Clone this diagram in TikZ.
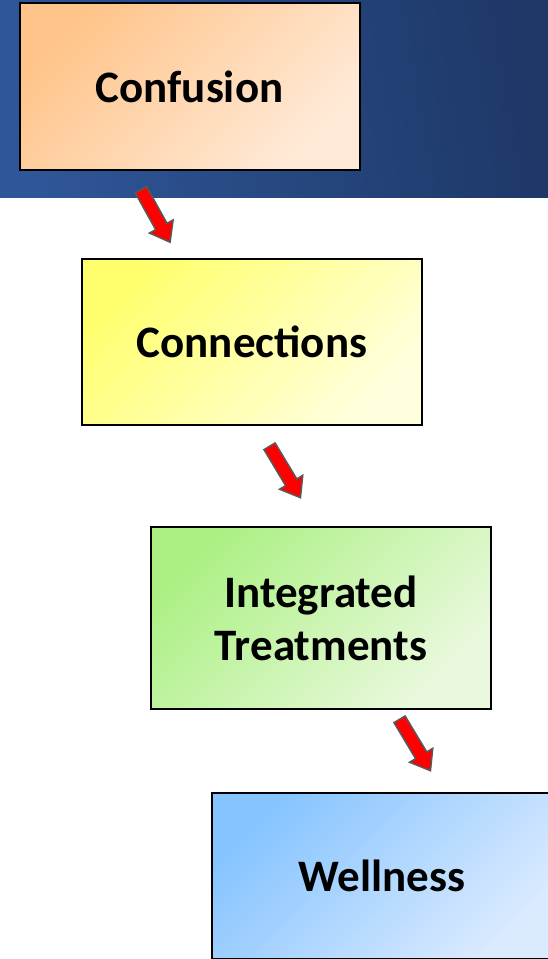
\documentclass[tikz,border=0pt]{standalone}
\usepackage{fontspec}
\setmainfont{Carlito}
\definecolor{bandL}{RGB}{47,86,152}
\definecolor{bandR}{RGB}{30,56,104}
\tikzset{
  stage/.style={draw=black, line width=2pt, minimum width=340pt, rectangle,
    align=center, font=\bfseries\fontsize{45}{53}\selectfont},
  diag/.style={shading angle=45},
  flowarrow/.style={draw=black!65, line width=1.5pt, fill=red, line join=miter}
}
% block arrow pointing along +x, centred on the origin
\newcommand\blockarrow[3]{%
  \draw[flowarrow, shift={#1}, rotate=#2] (-30,-6.5) -- (12,-6.5) -- (12,-13.5)
    -- (30,0) -- (12,13.5) -- (12,6.5) -- (-30,6.5) -- cycle;
  \coordinate (#3) at #1;}
\begin{document}
\begin{tikzpicture}[x=1pt,y=-1pt]
  \clip (0,0) rectangle (548,959);
  \fill[white] (0,0) rectangle (548,959);
  % dark header band
  \shade[left color=bandL, right color=bandR, shading angle=100] (0,0) rectangle (548,197);

  \node[stage, minimum height=167pt, top color={rgb,255:red,255;green,196;blue,138}, bottom color={rgb,255:red,255;green,234;blue,216}, diag] (confusion) at (189.5,86.5) {Confusion};
  \node[stage, minimum height=166pt, top color={rgb,255:red,255;green,255;blue,110}, bottom color={rgb,255:red,255;green,255;blue,222}, diag] (connections) at (252,342) {Connections};
  \node[stage, minimum height=182pt, top color={rgb,255:red,172;green,240;blue,132}, bottom color={rgb,255:red,234;green,249;blue,222}, diag] (integrated) at (321,618) {Integrated\\Treatments};
  \node[stage, minimum height=166pt, top color={rgb,255:red,134;green,196;blue,255}, bottom color={rgb,255:red,218;green,234;blue,255}, diag] (wellness) at (382,876) {Wellness};

  \blockarrow{(155.5,216)}{-61}{a1}
  \blockarrow{(285,472)}{-59}{a2}
  \blockarrow{(415,745)}{-59}{a3}
\end{tikzpicture}
\end{document}
